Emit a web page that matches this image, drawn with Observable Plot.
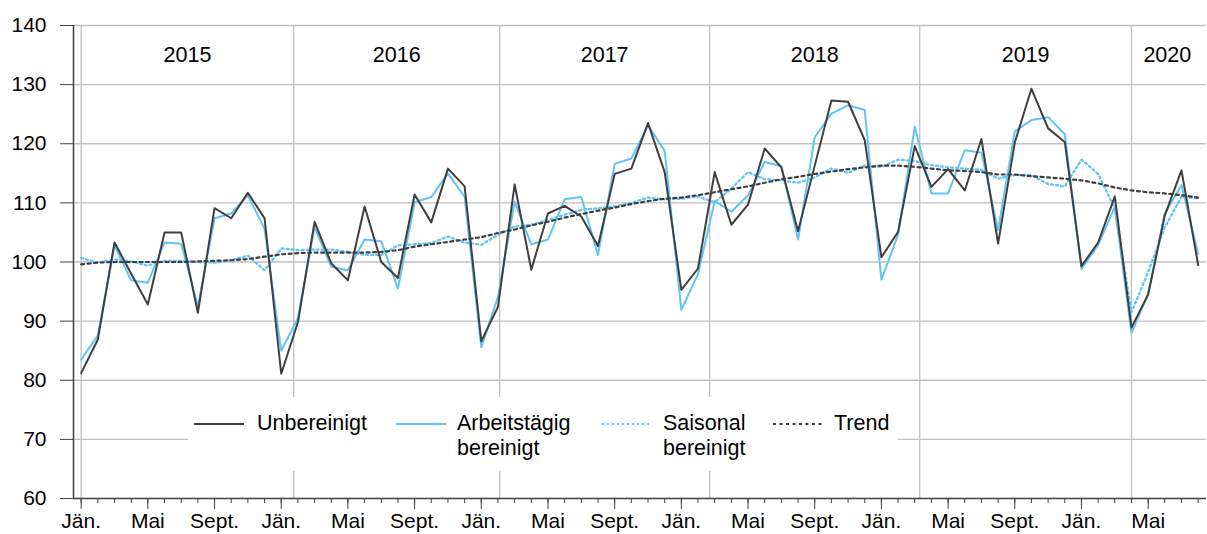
<!DOCTYPE html>
<html><head><meta charset="utf-8">
<script src="https://cdn.jsdelivr.net/npm/d3@7"></script>
<script src="https://cdn.jsdelivr.net/npm/@observablehq/plot@0.6"></script>
<style>
body{margin:0;background:#fff;font-family:"Liberation Sans",Arial,sans-serif;}
#wrap{position:relative;width:1207px;height:534px;overflow:hidden;}
#legend{position:absolute;left:188px;top:397px;width:710px;height:74px;background:#fff;}
.item{position:absolute;font-size:21.5px;line-height:25px;color:#000;white-space:nowrap;}
.sw{position:absolute;top:25px;}
</style></head><body><div id="wrap"><div id="chart"></div><div id="legend"></div></div>
<script>
// ---- data (Jan 2015 – Aug 2020, monthly) ----
const years = [2015, 2016, 2017, 2018, 2019, 2020];
const monthNames = ["Jän.","Feb.","März","April","Mai","Juni","Juli","Aug.","Sept.","Okt.","Nov.","Dez."];
const tickMonths = ["Jän.","Mai","Sept."];

const unbereinigt = [
  81.2, 86.9, 103.3, 98.0, 92.8, 105.0, 105.0, 91.4, 109.1, 107.4, 111.7, 107.4,
  81.1, 89.8, 106.8, 99.8, 96.9, 109.4, 100.0, 97.3, 111.4, 106.7, 115.8, 112.8,
  86.6, 92.4, 113.1, 98.7, 108.2, 109.5, 107.7, 102.7, 114.9, 115.8, 123.5, 115.2,
  95.3, 98.9, 115.2, 106.3, 109.7, 119.2, 116.0, 105.2, 116.3, 127.3, 127.1, 120.6,
  100.8, 105.1, 119.6, 112.7, 115.7, 112.1, 120.8, 103.1, 120.2, 129.3, 122.6, 120.3,
  99.3, 103.3, 111.1, 88.9, 94.5, 107.9, 115.5, 99.5
];
const arbeitstaegig = [
  83.5, 87.6, 102.8, 96.9, 96.5, 103.3, 103.1, 92.5, 107.4, 108.2, 111.3, 105.6,
  85.0, 90.5, 105.9, 99.2, 98.6, 103.8, 103.5, 95.5, 110.1, 111.0, 115.0, 111.0,
  85.6, 94.1, 110.2, 103.0, 103.8, 110.6, 111.0, 101.2, 116.6, 117.5, 123.1, 118.8,
  91.9, 98.0, 110.3, 108.5, 111.3, 116.9, 116.2, 103.8, 121.1, 125.1, 126.5, 125.7,
  97.0, 104.6, 122.9, 111.6, 111.6, 118.9, 118.5, 105.4, 122.1, 124.0, 124.5, 121.6,
  98.8, 102.9, 109.3, 88.0, 94.6, 108.2, 113.0, 101.4
];
const saisonal = [
  100.7, 99.9, 100.4, 100.1, 99.4, 100.2, 100.2, 100.0, 99.9, 100.3, 101.1, 98.6,
  102.3, 102.0, 102.1, 102.1, 101.7, 101.2, 101.2, 102.8, 103.0, 103.2, 104.3, 103.3,
  102.9, 104.6, 106.0, 106.3, 107.1, 108.0, 108.8, 109.1, 109.4, 110.0, 110.9, 110.6,
  110.7, 111.1, 110.1, 112.4, 115.2, 114.0, 113.8, 113.4, 114.3, 115.8, 115.1, 116.3,
  116.1, 117.3, 117.1, 116.4, 116.0, 115.8, 115.6, 114.1, 114.7, 114.7, 113.2, 112.8,
  117.3, 114.9, 109.0, 91.5, 98.3, 105.9, 111.0, 110.8
];
const trend = [
  99.6, 99.9, 100.0, 100.0, 100.0, 100.0, 100.0, 100.1, 100.2, 100.3, 100.5, 100.9,
  101.3, 101.5, 101.6, 101.6, 101.6, 101.6, 101.7, 102.0, 102.6, 103.0, 103.4, 103.8,
  104.2, 104.9, 105.5, 106.2, 106.8, 107.5, 108.1, 108.7, 109.2, 109.8, 110.3, 110.7,
  110.9, 111.3, 111.8, 112.3, 112.8, 113.4, 114.0, 114.4, 114.9, 115.3, 115.7, 116.0,
  116.3, 116.3, 116.1, 115.8, 115.5, 115.4, 115.2, 114.8, 114.8, 114.5, 114.3, 114.1,
  113.8, 113.3, 112.6, 112.1, 111.8, 111.6, 111.3, 110.9
];
// year separators (in month-index units) and right end
const yearBounds = [0, 12.75, 25.1, 37.7, 50.3, 63.0, 67.3];
const yTicks = [60, 70, 80, 90, 100, 110, 120, 130, 140];
const xDomain = [-0.46, 67.5];

const seriesNames = ["Unbereinigt", "Arbeitstägig bereinigt", "Saisonal bereinigt", "Trend"];
const colDark = "#3f3f3f", colBlue = "#62c4f6";
const dashSaison = "2,3", dashTrend = "3,3.5";

// ---- build table ----
const rows = unbereinigt.map((v, i) => ({
  i, year: years[Math.floor(i / 12)], month: monthNames[i % 12],
  u: v, a: arbeitstaegig[i], s: saisonal[i], t: trend[i]
}));
const majorTicks = rows.filter(r => tickMonths.includes(r.month)).map(r => r.i);
const yearLabels = years.map((y, k) => ({x: (yearBounds[k] + yearBounds[k + 1]) / 2, label: String(y)}));

const chart = Plot.plot({
  width: 1207, height: 534,
  marginLeft: 73, marginRight: 1, marginTop: 25, marginBottom: 36,
  style: {fontFamily: "'Liberation Sans', Arial, sans-serif", fontSize: "21px", color: "#000", background: "#fff"},
  x: {domain: xDomain, axis: null},
  y: {domain: [60, 140], axis: null},
  marks: [
    Plot.ruleY(yTicks.slice(1), {stroke: "#c0c0c0", strokeWidth: 1.3}),
    Plot.ruleX(yearBounds.slice(0, -1), {y1: 60, y2: 140, stroke: "#c0c0c0", strokeWidth: 1.3}),
    Plot.text(yearLabels, {x: "x", y: 135, text: "label", fontSize: 21.5, fill: "#000"}),
    Plot.line(rows, {x: "i", y: "a", stroke: colBlue, strokeWidth: 2}),
    Plot.line(rows, {x: "i", y: "s", stroke: colBlue, strokeWidth: 2.3, strokeDasharray: dashSaison}),
    Plot.line(rows, {x: "i", y: "t", stroke: colDark, strokeWidth: 2.2, strokeDasharray: dashTrend}),
    Plot.line(rows, {x: "i", y: "u", stroke: colDark, strokeWidth: 2}),
    Plot.ruleX([xDomain[0]], {y1: 60, y2: 140, stroke: colDark, strokeWidth: 1.5}),
    Plot.ruleY([60], {stroke: colDark, strokeWidth: 1.5}),
    Plot.axisY({ticks: yTicks, tickSize: 13, tickPadding: 14, stroke: colDark, fill: "#000", label: null}),
    Plot.axisX({ticks: rows.map(r => r.i), tickSize: 5, tickFormat: () => "", stroke: colDark, label: null}),
    Plot.axisX({ticks: majorTicks, tickSize: 11, tickPadding: 4, stroke: colDark, fill: "#000", label: null,
      tickFormat: d => rows[d].month})
  ]
});
document.getElementById("chart").appendChild(chart);

// ---- legend (overlay box inside the plot) ----
const legendItems = [
  {name: seriesNames[0], lines: ["Unbereinigt"], color: colDark, dash: null, sx: 6, tx: 69},
  {name: seriesNames[1], lines: ["Arbeitstägig", "bereinigt"], color: colBlue, dash: null, sx: 208, tx: 269},
  {name: seriesNames[2], lines: ["Saisonal", "bereinigt"], color: colBlue, dash: dashSaison, sx: 414, tx: 475},
  {name: seriesNames[3], lines: ["Trend"], color: colDark, dash: dashTrend, sx: 585, tx: 646}
];
const leg = document.getElementById("legend");
for (const it of legendItems) {
  const sw = document.createElementNS("http://www.w3.org/2000/svg", "svg");
  sw.setAttribute("width", 50); sw.setAttribute("height", 4);
  sw.setAttribute("class", "sw"); sw.style.left = it.sx + "px";
  const ln = document.createElementNS("http://www.w3.org/2000/svg", "line");
  ln.setAttribute("x1", 0); ln.setAttribute("x2", 50); ln.setAttribute("y1", 2); ln.setAttribute("y2", 2);
  ln.setAttribute("stroke", it.color); ln.setAttribute("stroke-width", 2);
  if (it.dash) ln.setAttribute("stroke-dasharray", it.dash);
  sw.appendChild(ln); leg.appendChild(sw);
  const tx = document.createElement("div");
  tx.className = "item"; tx.style.left = it.tx + "px"; tx.style.top = "14px";
  tx.innerHTML = it.lines.join("<br>");
  leg.appendChild(tx);
}
</script></body></html>
